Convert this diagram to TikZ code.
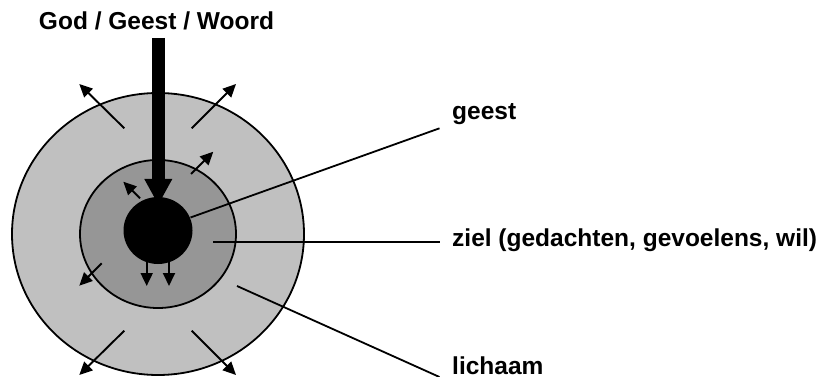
\documentclass[tikz,border=0pt]{standalone}
\usepackage{fontspec}
\setmainfont{Liberation Sans}
\usetikzlibrary{shapes.geometric,arrows.meta}
\definecolor{outergray}{RGB}{192,192,192}
\definecolor{midgray}{RGB}{150,150,150}
\begin{document}
\begin{tikzpicture}[x=1pt,y=-1pt,
  ring/.style={ellipse,draw=black,line width=1.8pt,inner sep=0pt},
  lbl/.style={font=\fontsize{24.5}{28}\selectfont\bfseries,inner sep=0pt},
  ray/.style={line width=1.9pt,-{Triangle[length=13pt,width=12pt]}},
  leader/.style={line width=1.8pt}]
\useasboundingbox (0,0) rectangle (828,377);
\node[ring,fill=outergray,minimum width=292pt,minimum height=282pt] (body) at (158,234) {};
\node[ring,fill=midgray,minimum width=156pt,minimum height=148pt] (soul) at (158,234) {};
\node[ellipse,fill=black,inner sep=0pt,minimum width=69pt,minimum height=67pt] (spirit) at (158,230.5) {};
% labels
\node[lbl,anchor=base] (god) at (156.5,30) {God / Geest / Woord};
\node[lbl,anchor=base west] (lgeest) at (452,119.5) {geest};
\node[lbl,anchor=base west] (lziel) at (452,246.5) {ziel (gedachten, gevoelens, wil)};
\node[lbl,anchor=base west] (llich) at (452,374) {lichaam};
% leader lines
\coordinate (g1) at (190.5,217.5);
\coordinate (g2) at (439.5,128.3);
\coordinate (z1) at (213,241.7);
\coordinate (z2) at (439.5,241.7);
\coordinate (l1) at (237,286);
\coordinate (l2) at (439.5,377);
\draw[leader] (g1) -- (g2);
\draw[leader] (z1) -- (z2);
\draw[leader] (l1) -- (l2);
% big arrow from God
\coordinate (bigtop) at (158.3,38);
\coordinate (bigtip) at (158.3,205);
\draw[line width=13.5pt,-{Triangle[length=26pt,width=26pt]}] (bigtop) -- (bigtip);
% outer rays
\coordinate (o1a) at (124.3,128.3); \coordinate (o1b) at (79.3,84);
\coordinate (o2a) at (191.7,128.3); \coordinate (o2b) at (236,84);
\coordinate (o3a) at (124.3,330.7); \coordinate (o3b) at (79.3,375);
\coordinate (o4a) at (191.7,330.7); \coordinate (o4b) at (236,375);
\draw[ray] (o1a) -- (o1b);
\draw[ray] (o2a) -- (o2b);
\draw[ray] (o3a) -- (o3b);
\draw[ray] (o4a) -- (o4b);
% middle rays
\coordinate (m1a) at (191,174); \coordinate (m1b) at (213.3,151.7);
\coordinate (m2a) at (140,198.3); \coordinate (m2b) at (123.3,181.7);
\coordinate (m3a) at (101.7,263.3); \coordinate (m3b) at (79.3,285.7);
\draw[ray] (m1a) -- (m1b);
\draw[ray] (m2a) -- (m2b);
\draw[ray] (m3a) -- (m3b);
% downward arrows from spirit
\coordinate (d1a) at (146.7,262); \coordinate (d1b) at (146.7,286);
\coordinate (d2a) at (169,262); \coordinate (d2b) at (169,286);
\draw[ray] (d1a) -- (d1b);
\draw[ray] (d2a) -- (d2b);
\end{tikzpicture}
\end{document}
